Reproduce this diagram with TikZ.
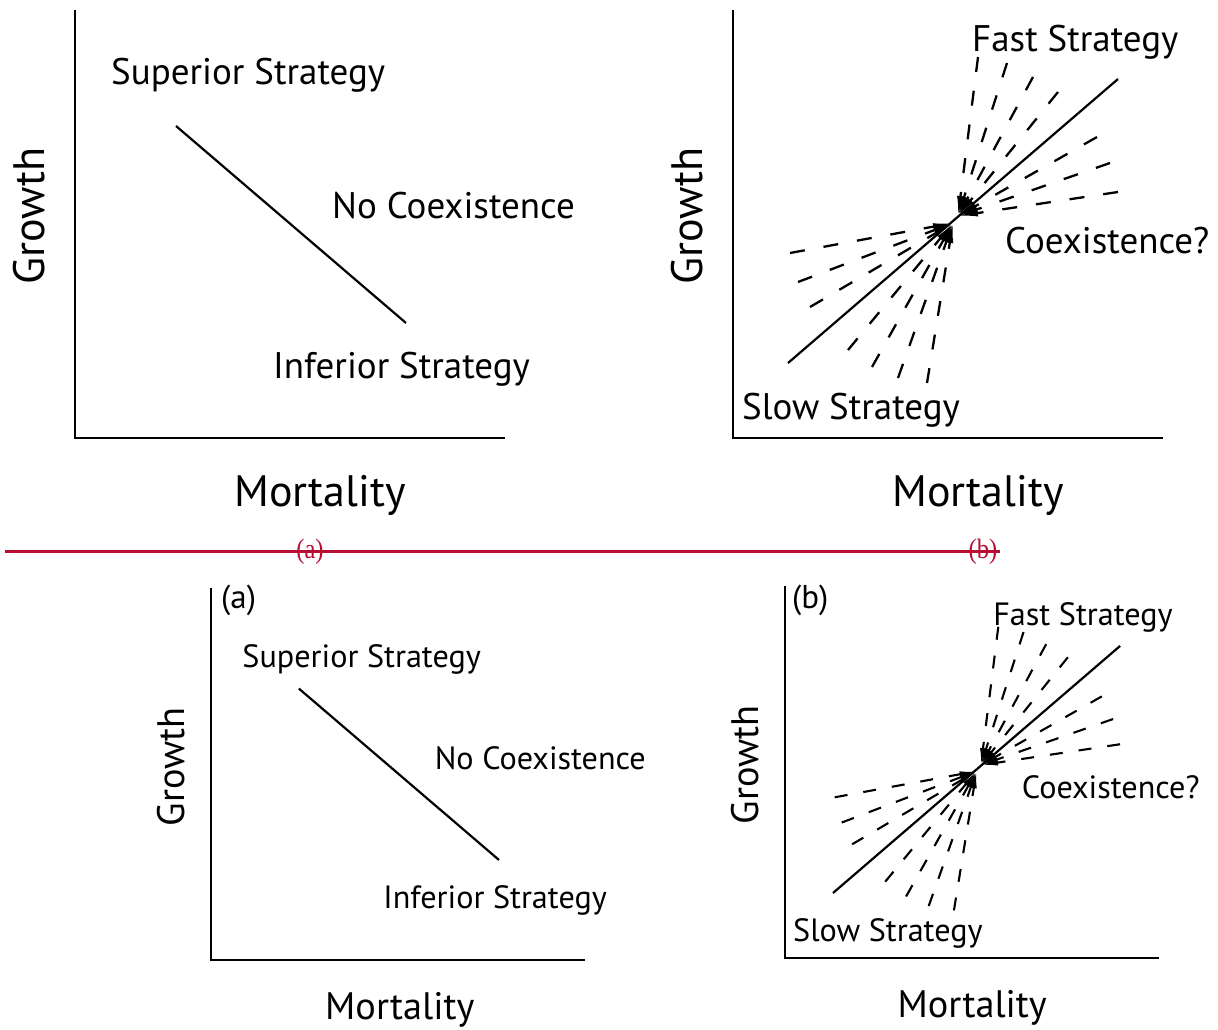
\documentclass[tikz,border=0pt]{standalone}
\usepackage{fontspec}
\newfontfamily\myriad{PT Sans}
\newfontfamily\timesr{Liberation Serif}
\usetikzlibrary{arrows.meta}
\definecolor{redline}{RGB}{185,14,52}
\tikzset{
 axis/.style={line width=2.4pt},
 curve/.style={line width=2.2pt},
 raytop/.style={line width=2.3pt, dash pattern=on 15pt off 19pt, -{Latex[length=20pt,width=7pt]}},
 raybot/.style={line width=2.1pt, dash pattern=on 13pt off 16pt, -{Latex[length=17pt,width=6pt]}},
 lbl/.style={font=\myriad\fontsize{37}{40}\selectfont, inner sep=0pt},
 big/.style={font=\myriad\fontsize{44}{50}\selectfont, inner sep=0pt},
 redlbl/.style={text=redline, font=\timesr\fontsize{28}{30}\selectfont, inner sep=0pt, xscale=0.88},
}
\newcommand\drawpanelA[2]{%
 \coordinate (yt) at (75,10);
 \coordinate (o) at (75,438);
 \coordinate (xr) at (505,438);
 \draw[axis] (yt) -- (o) -- (xr);
 \coordinate (s) at (176,126);
 \coordinate (e) at (406,323);
 \draw[curve] (s) -- (e);
 \node[lbl,anchor=west] (sup) at (111,#2) {Superior Strategy};
 \node[lbl,anchor=west] (noc) at (332,206) {No Coexistence};
 \node[lbl,anchor=west] (inf) at (273,369) {Inferior Strategy};
 \node[big,rotate=90] (gro) at (29,216) {Growth};
 \node[big] (mor) at (#1,495) {Mortality};
}
\newcommand\drawpanelB[2]{%
 \coordinate (yt) at (733,10);
 \coordinate (o) at (733,438);
 \coordinate (xr) at (1163,438);
 \draw[axis] (yt) -- (o) -- (xr);
 \coordinate (s) at (788,363);
 \coordinate (e) at (1118,79);
 \draw[curve] (s) -- (e);
 \coordinate (U) at (958,216);
 \coordinate (L) at (953,223);
 \foreach \x/\y [count=\i] in {978/57,1007/63,1033/77,1058/92,1097/137,1110/163,1118/192}{
   \coordinate (u\i) at (\x,\y);
   \draw[ray] (u\i) -- (U);
 }
 \foreach \x/\y [count=\i] in {790/253,798/282,810/307,848/350,872/367,898/378,927/383}{
   \coordinate (l\i) at (\x,\y);
   \draw[ray] (l\i) -- (L);
 }
 \node[lbl,anchor=west] (fast) at (972,#2) {Fast Strategy};
 \node[lbl,anchor=west] (coex) at (1005,241) {Coexistence?};
 \node[lbl,anchor=west] (slow) at (742,410) {Slow Strategy};
 \node[big,rotate=90] (gro) at (687,216) {Growth};
 \node[big] (mor) at (#1,495) {Mortality};
}
\begin{document}
\begin{tikzpicture}[x=1pt,y=-1pt]
 \useasboundingbox[fill=white] (0,0) rectangle (1218,1030);
 % top panels
 \begin{scope}[name prefix=ta-]
  \drawpanelA{320}{75}
 \end{scope}
 \begin{scope}[name prefix=tb-, ray/.style={raytop}]
  \drawpanelB{978}{42}
 \end{scope}
 % red rule with struck labels
 \coordinate (redl) at (5,551);
 \coordinate (redr) at (1000,551);
 \draw[redline, line width=3pt] (redl) -- (redr);
 \node[redlbl] (reda) at (310,552) {(a)};
 \node[redlbl] (redb) at (983,552) {(b)};
 % bottom panels
 \begin{scope}[name prefix=ba-, shift={(145.75,578.94)}, scale=0.87, transform shape]
  \drawpanelA{292}{92}
 \end{scope}
 \begin{scope}[name prefix=bb-, shift={(147.44,577.19)}, scale=0.87, transform shape, ray/.style={raybot}]
  \drawpanelB{948}{46}
 \end{scope}
 \node[lbl,anchor=west,font=\myriad\fontsize{33}{36}\selectfont] (laba) at (221,600) {(a)};
 \node[lbl,anchor=west,font=\myriad\fontsize{33}{36}\selectfont] (labb) at (792,600) {(b)};
\end{tikzpicture}
\end{document}
